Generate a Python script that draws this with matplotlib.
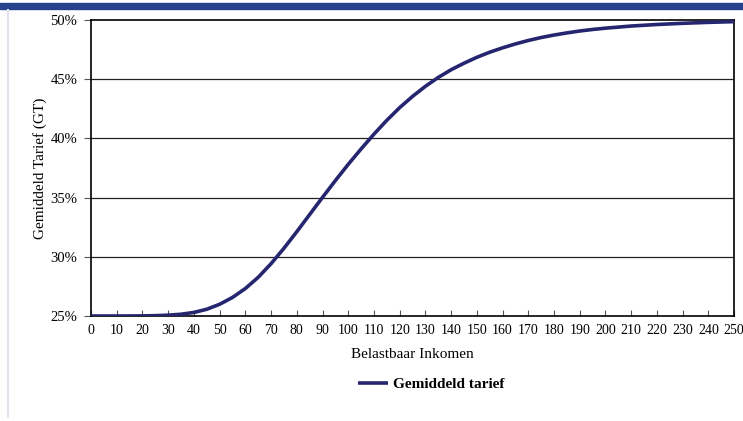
import matplotlib
matplotlib.use("Agg")
import matplotlib.pyplot as plt
from matplotlib.patches import Rectangle
from matplotlib.lines import Line2D

# belastbaar inkomen (x) en gemiddeld tarief in % (y)
inkomen = [0, 5, 10, 15, 20, 25, 30, 35, 40, 45, 50, 55, 60, 65, 70, 75, 80,
           85, 90, 95, 100, 105, 110, 115, 120, 125, 130, 135, 140, 145, 150,
           155, 160, 165, 170, 175, 180, 185, 190, 195, 200, 210, 220, 230,
           240, 250]
tarief = [25.0, 25.0, 25.0, 25.005, 25.01, 25.03, 25.07, 25.15, 25.3, 25.57,
          25.99, 26.57, 27.32, 28.27, 29.42, 30.72, 32.12, 33.57, 35.02, 36.44,
          37.81, 39.11, 40.36, 41.53, 42.6, 43.55, 44.4, 45.15, 45.8, 46.35,
          46.85, 47.28, 47.65, 47.98, 48.27, 48.52, 48.73, 48.91, 49.07, 49.2,
          49.31, 49.49, 49.62, 49.72, 49.8, 49.86]
xticks = list(range(0, 251, 10))
yticks = [25, 30, 35, 40, 45, 50]

plt.rcParams['font.family'] = ['Liberation Serif', 'DejaVu Serif']

fig = plt.figure(figsize=(7.43, 4.21), dpi=100)

# pagina-opmaak: blauwe balk bovenaan en grijze lijn links
fig.patches.append(Rectangle((0, 1 - 9/421), 1, 6/421, transform=fig.transFigure,
                             color='#27428c', zorder=0))
fig.lines.append(Line2D([8/743, 8/743], [0.01, 1 - 10/421], transform=fig.transFigure,
                        color='#dfe5ec', lw=1.5))

ax = fig.add_axes([0.1225, 0.2494, 0.8655, 0.7031])
ax.plot(inkomen, tarief, color='#262670', lw=2.6, label='Gemiddeld tarief',
        solid_capstyle='butt', solid_joinstyle='round', zorder=3)

ax.set_xlim(0, 250)
ax.set_ylim(25, 50)
ax.set_xticks(xticks)
ax.set_yticks(yticks)
ax.set_yticklabels([f'{v}%' for v in yticks])
ax.tick_params(axis='x', direction='in', length=4, labelsize=10, pad=6, color='#555555')
ax.tick_params(axis='y', direction='out', length=5, labelsize=10.5, pad=5, color='#555555')
for y in yticks[1:-1]:
    ax.axhline(y, color='#222222', lw=0.9, zorder=1)
for s in ax.spines.values():
    s.set_color('black')
    s.set_linewidth(1.2)

ax.set_xlabel('Belastbaar Inkomen', fontsize=11, labelpad=8)
ax.set_ylabel('Gemiddeld Tarief (GT)', fontsize=11, labelpad=2)

fig.legend(loc='center', bbox_to_anchor=(0.58, 1 - 384/421), frameon=False,
           prop={'weight': 'bold', 'size': 11}, handlelength=2.0, handletextpad=0.3)

fig.savefig('out.png', dpi=100)
